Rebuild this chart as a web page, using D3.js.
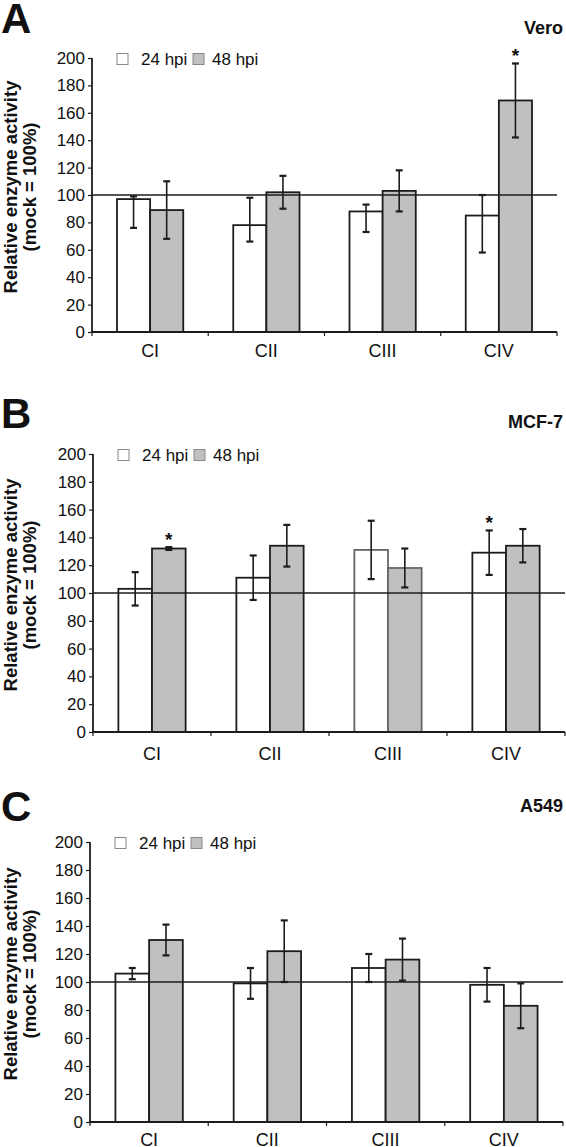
<!DOCTYPE html>
<html><head><meta charset="utf-8">
<script src="https://cdn.jsdelivr.net/npm/d3@7"></script>
<style>body{margin:0;background:#fff}svg{display:block}</style>
</head><body>
<svg id="c" width="566" height="1147"></svg>
<script>
const categories = ["CI","CII","CIII","CIV"];
const seriesNames = ["24 hpi","48 hpi"];
const yTicks = [0,20,40,60,80,100,120,140,160,180,200];
const panelLetters = ["A","B","C"];
const cellLines = ["Vero","MCF-7","A549"];
const yLabel1 = "Relative enzyme activity";
const yLabel2 = "(mock = 100%)";
const refValue = 100;

// Vero
const vero24 = [97,78,88,85];
const vero24Lo = [76,66,73,58];
const vero24Hi = [99,98,93,100];
const vero48 = [89,102,103,169];
const vero48Lo = [68,90,88,142];
const vero48Hi = [110,114,118,196];
const vero24Sig = [0,0,0,0];
const vero48Sig = [0,0,0,1];
// MCF-7
const mcf24 = [103,111,131,129];
const mcf24Lo = [91,95,110,113];
const mcf24Hi = [115,127,152,145];
const mcf48 = [132,134,118,134];
const mcf48Lo = [131,119,104,122];
const mcf48Hi = [133,149,132,146];
const mcf24Sig = [0,0,0,1];
const mcf48Sig = [1,0,0,0];
// A549
const a24 = [106,99,110,98];
const a24Lo = [102,88,100,86];
const a24Hi = [110,110,120,110];
const a48 = [130,122,116,83];
const a48Lo = [119,100,101,67];
const a48Hi = [141,144,131,99];
const a24Sig = [0,0,0,0];
const a48Sig = [0,0,0,0];

const panelData = [
  {s:[{v:vero24,lo:vero24Lo,hi:vero24Hi,sig:vero24Sig},{v:vero48,lo:vero48Lo,hi:vero48Hi,sig:vero48Sig}]},
  {s:[{v:mcf24,lo:mcf24Lo,hi:mcf24Hi,sig:mcf24Sig},{v:mcf48,lo:mcf48Lo,hi:mcf48Hi,sig:mcf48Sig}]},
  {s:[{v:a24,lo:a24Lo,hi:a24Hi,sig:a24Sig},{v:a48,lo:a48Lo,hi:a48Hi,sig:a48Sig}]}
];

// layout (pixels)
const layout = [
  {x0:92, x1:557, yTop:58,  yBot:332, letterY:33,  titleY:34,  catY:357},
  {x0:93, x1:565, yTop:454, yBot:732, letterY:428, titleY:428, catY:760},
  {x0:90, x1:563, yTop:842, yBot:1122,letterY:821, titleY:812, catY:1146}
];
const FONT = "'Liberation Sans', Arial, Helvetica, sans-serif";
const fills = ["#ffffff","#c0c0c0"];
const dark = "#1c1c1c";

const svg = d3.select("#c");

panelData.forEach((pd, pi) => {
  const L = layout[pi];
  const g = svg.append("g");
  const x = d3.scaleBand().domain(categories).range([L.x0, L.x1]).padding(0);
  const y = d3.scaleLinear().domain([0,200]).range([L.yBot, L.yTop]);
  const bw = x.bandwidth()*0.285;
  const xs = d3.scaleBand().domain(seriesNames).range([0, 2*bw]);
  const off = x.bandwidth()/2 - bw;

  // panel letter & title
  g.append("text").attr("x",1).attr("y",L.letterY).text(panelLetters[pi])
    .attr("font-family",FONT).attr("font-weight","bold").attr("font-size",42).attr("fill","#111");
  g.append("text").attr("x",563).attr("y",L.titleY).attr("text-anchor","end").text(cellLines[pi])
    .attr("font-family",FONT).attr("font-weight","bold").attr("font-size",18).attr("fill","#111");

  // y label
  const cy = (L.yTop+L.yBot)/2 - 8;
  g.append("text").attr("transform",`translate(17,${cy}) rotate(-90)`).attr("text-anchor","middle")
    .text(yLabel1).attr("font-family",FONT).attr("font-weight","bold").attr("font-size",18.5).attr("fill","#111");
  g.append("text").attr("transform",`translate(36,${cy}) rotate(-90)`).attr("text-anchor","middle")
    .text(yLabel2).attr("font-family",FONT).attr("font-weight","bold").attr("font-size",18.5).attr("fill","#111");

  // bars
  pd.s.forEach((s, si) => {
    const sg = g.append("g");
    const faint = (pi===1);
    sg.selectAll("rect").data(categories).join("rect")
      .attr("x", c => x(c)+off+xs(seriesNames[si]))
      .attr("y", (c,i) => y(s.v[i]))
      .attr("width", xs.bandwidth())
      .attr("height", (c,i) => y(0)-y(s.v[i]))
      .attr("fill", fills[si])
      .attr("stroke", (c,i) => (pi===1 && i===2) ? "#666" : dark)
      .attr("stroke-width", 1.8);
  });

  // reference line at 100
  g.append("line").attr("x1",L.x0).attr("x2",L.x1).attr("y1",y(refValue)).attr("y2",y(refValue))
    .attr("stroke",dark).attr("stroke-width",1.4);

  // error bars
  pd.s.forEach((s, si) => {
    categories.forEach((c,i) => {
      const cx = x(c)+off+xs(seriesNames[si])+xs.bandwidth()/2;
      const eg = g.append("g").attr("stroke",dark).attr("stroke-width",1.6);
      eg.append("line").attr("x1",cx).attr("x2",cx).attr("y1",y(s.lo[i])).attr("y2",y(s.hi[i]));
      eg.append("line").attr("x1",cx-3.5).attr("x2",cx+3.5).attr("y1",y(s.lo[i])).attr("y2",y(s.lo[i])).attr("stroke-width",2.2);
      eg.append("line").attr("x1",cx-3.5).attr("x2",cx+3.5).attr("y1",y(s.hi[i])).attr("y2",y(s.hi[i])).attr("stroke-width",2.2);
      if (s.sig[i]) {
        g.append("text").attr("x",cx).attr("y",y(s.hi[i])-1).attr("text-anchor","middle").text("*")
          .attr("font-family",FONT).attr("font-weight","bold").attr("font-size",19).attr("fill","#111");
      }
    });
  });

  // y axis
  const ya = g.append("g").attr("transform",`translate(${L.x0},0)`)
    .call(d3.axisLeft(y).tickValues(yTicks).tickSize(4).tickPadding(3).tickFormat(d3.format("d")));
  ya.select(".domain").attr("stroke",dark).attr("stroke-width",1.8).attr("d",`M0,${L.yTop}V${L.yBot}`);
  ya.selectAll(".tick line").attr("stroke",dark).attr("stroke-width",1.2);
  ya.selectAll(".tick text").attr("font-family",FONT).attr("font-size",17).attr("fill","#111");

  // x axis
  const xa = g.append("g").attr("transform",`translate(0,${L.yBot})`)
    .call(d3.axisBottom(x).tickSize(0).tickFormat(""));
  xa.select(".domain").attr("stroke",dark).attr("stroke-width",1.8).attr("d",`M${L.x0},0H${L.x1}`);
  xa.selectAll(".tick").remove();
  const bounds = d3.range(categories.length+1).map(i => L.x0 + i*x.bandwidth());
  xa.selectAll("line.b").data(bounds).join("line").attr("class","b")
    .attr("x1",d=>d).attr("x2",d=>d).attr("y1",0).attr("y2",4).attr("stroke",dark).attr("stroke-width",1.2);
  g.selectAll("text.cat").data(categories).join("text").attr("class","cat")
    .attr("x", c => x(c)+x.bandwidth()/2).attr("y", L.catY).attr("text-anchor","middle").text(c=>c)
    .attr("font-family",FONT).attr("font-size",18).attr("fill","#111");

  // legend
  const lg = g.append("g");
  const ly = L.yTop + 1;
  const items = [{dx:25, tx:49},{dx:101, tx:120}];
  seriesNames.forEach((n, si) => {
    lg.append("rect").attr("x",L.x0+items[si].dx).attr("y",ly-5.5).attr("width",11).attr("height",11)
      .attr("fill",fills[si]).attr("stroke","#888").attr("stroke-width",1);
    lg.append("text").attr("x",L.x0+items[si].tx).attr("y",ly+6).text(n)
      .attr("font-family",FONT).attr("font-size",17).attr("fill","#111");
  });
});
</script>
</body></html>
